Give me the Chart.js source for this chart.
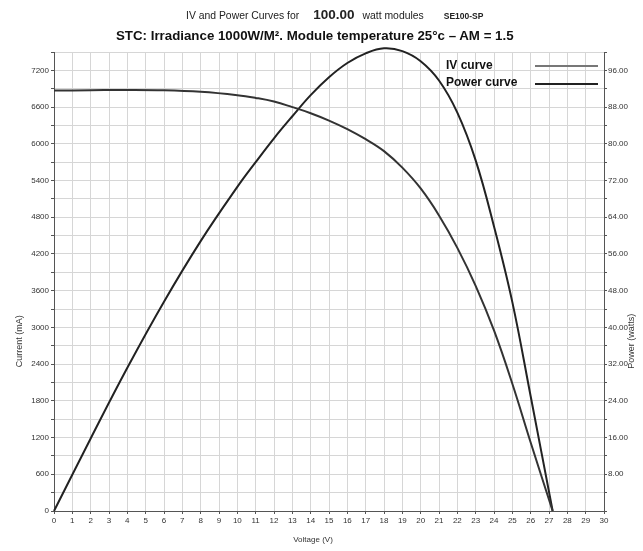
<!DOCTYPE html>
<html>
<head>
<meta charset="utf-8">
<script src="https://cdn.jsdelivr.net/npm/chart.js@4"></script>
<style>
  body { margin: 0; background: #fff; }
  #wrap { position: relative; width: 643px; height: 551px; }
  .head {
    position: absolute; left: 0; width: 643px;
    font-family: 'Liberation Sans', Arial, sans-serif; color: #222; white-space: nowrap;
  }
  #head1 { top: 5px; left: 186px; width: auto; }
  #head1 .sm { font-size: 10.4px; }
  #head1 .big { font-size: 13.5px; font-weight: bold; margin: 0 8px 0 14px; }
  #head1 .code { font-size: 8.5px; font-weight: bold; margin-left: 20px; }
  #head2 { top: 28px; left: 116px; width: auto; font-size: 13.3px; font-weight: bold; color: #111; }
</style>
</head>
<body>
<div id="wrap">
  <canvas id="chart"></canvas>
  <div class="head" id="head1"><span class="sm">IV and Power Curves for</span><span class="big">100.00</span><span class="sm">watt modules</span><span class="code">SE100-SP</span></div>
  <div class="head" id="head2">STC: Irradiance 1000W/M². Module temperature 25°c – AM = 1.5</div>
</div>
<script>
// data
const volts = [0, 2, 4, 6, 8, 10, 11, 12, 13, 14, 15, 16, 17, 18, 19, 20, 21, 22, 23, 24, 25, 26, 27.2];
const currentMA = [6870, 6875, 6880, 6875, 6850, 6795, 6750, 6690, 6600, 6500, 6380, 6240, 6075, 5880, 5610, 5270, 4830, 4300, 3680, 2950, 2080, 1120, 0];
const powerW = [0, 15.8, 31.2, 45.6, 58.8, 70.6, 76, 81.2, 86, 90.6, 94.5, 97.6, 99.7, 100.8, 100.2, 98, 93.8, 86.8, 76.4, 62, 45.5, 25, 0];
const seriesNames = ['IV curve', 'Power curve'];
const legendColors = ['#777', '#222'];

const xTitle = 'Voltage (V)';
const yTitle = 'Current (mA)';
const y1Title = 'Power (watts)';

const FONT = "'Liberation Sans', Arial, sans-serif";

const toPoints = (xs, ys) => xs.map((x, i) => ({ x, y: ys[i] }));

// axis titles + legend drawn inside the plot
const extras = {
    id: 'extras',
    afterDraw(chart) {
        const ctx = chart.ctx;
        const a = chart.chartArea;
        ctx.save();
        ctx.fillStyle = '#333';
        ctx.textBaseline = 'middle';
        ctx.textAlign = 'center';
        ctx.font = '8px ' + FONT;
        ctx.fillText(xTitle, 313, a.bottom + 29);

        const midY = a.top + (a.bottom - a.top) * 0.63;
        ctx.font = '9px ' + FONT;
        ctx.save();
        ctx.translate(20, midY);
        ctx.rotate(-Math.PI / 2);
        ctx.fillText(yTitle, 0, 0);
        ctx.restore();
        ctx.save();
        ctx.translate(a.right + 28, midY);
        ctx.rotate(-Math.PI / 2);
        ctx.fillText(y1Title, 0, 0);
        ctx.restore();

        // legend
        ctx.textAlign = 'left';
        ctx.font = 'bold 12px ' + FONT;
        ctx.fillStyle = '#111';
        seriesNames.forEach((name, i) => {
            const y = a.top + 14 + i * 17;
            ctx.fillText(name, a.right - 158, y);
            ctx.strokeStyle = legendColors[i];
            ctx.lineWidth = 2;
            ctx.beginPath();
            ctx.moveTo(a.right - 69, y + i);
            ctx.lineTo(a.right - 6, y + i);
            ctx.stroke();
        });
        ctx.restore();
    }
};

new Chart(document.getElementById('chart'), {
    type: 'line',
    data: {
        datasets: [
            {
                label: seriesNames[0], data: toPoints(volts, currentMA), yAxisID: 'y',
                borderColor: '#333', borderWidth: 2, pointRadius: 0,
                tension: 0.4, fill: false
            },
            {
                label: seriesNames[1], data: toPoints(volts, powerW), yAxisID: 'y1',
                borderColor: '#222', borderWidth: 2, pointRadius: 0,
                tension: 0.4, fill: false, clip: false
            }
        ]
    },
    plugins: [extras],
    options: {
        responsive: true, maintainAspectRatio: false, animation: false,
        layout: { padding: { top: 52 } },
        plugins: {
            legend: { display: false },
            tooltip: { enabled: false },
            title: { display: false }
        },
        scales: {
            x: {
                type: 'linear', min: 0, max: 30,
                afterFit: s => { s.height = 40; },
                ticks: { stepSize: 1, color: '#333', font: { family: FONT, size: 8 }, padding: 2, maxRotation: 0, autoSkip: false },
                grid: { color: '#d6d6d6', tickColor: '#555', tickLength: 3 },
                border: { color: '#555', width: 1 }
            },
            y: {
                position: 'left', min: 0, max: 7500,
                afterFit: s => { s.width = 54; },
                ticks: {
                    stepSize: 300, color: '#333', font: { family: FONT, size: 8 }, padding: 2,
                    callback: v => (v % 600 === 0 ? String(v) : '')
                },
                grid: { color: '#d6d6d6', tickColor: '#555', tickLength: 3 },
                border: { color: '#555', width: 1 }
            },
            y1: {
                position: 'right', min: 0, max: 100,
                afterFit: s => { s.width = 39; },
                ticks: {
                    stepSize: 4, color: '#333', font: { family: FONT, size: 8 }, padding: 1,
                    callback: v => (v > 0 && v % 8 === 0 ? v.toFixed(2) : '')
                },
                grid: { drawOnChartArea: false, tickColor: '#555', tickLength: 3 },
                border: { color: '#555', width: 1 }
            }
        }
    }
});
</script>
</body>
</html>
